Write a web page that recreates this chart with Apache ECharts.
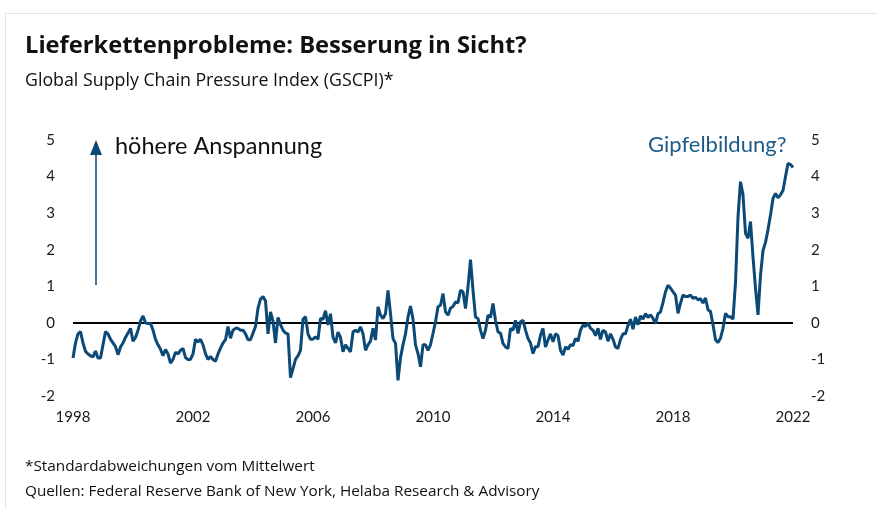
<!DOCTYPE html>
<html>
<head>
<meta charset="utf-8">
<script src="https://cdn.jsdelivr.net/npm/echarts@6/dist/echarts.min.js"></script>
<style>
  html, body { margin: 0; padding: 0; background: #fff; }
  #chart { width: 877px; height: 509px; }
</style>
</head>
<body>
<div id="chart"></div>
<script>
// GSCPI, monatlich ab Jan 1998
var startYear = 1998;
var gscpi = [
  // 1998
  -0.96, -0.55, -0.30, -0.24, -0.55, -0.78, -0.85, -0.90, -0.93, -0.77, -0.96, -0.96,
  // 1999
  -0.60, -0.24, -0.30, -0.45, -0.55, -0.65, -0.87, -0.66, -0.55, -0.40, -0.28, -0.15,
  // 2000
  -0.50, -0.40, -0.20, 0.05, 0.19, 0.00, -0.02, -0.01, -0.20, -0.45, -0.60, -0.72,
  // 2001
  -0.90, -0.73, -0.85, -1.10, -1.00, -0.80, -0.85, -0.75, -0.70, -0.95, -1.00, -1.00,
  // 2002
  -0.85, -0.45, -0.52, -0.45, -0.60, -0.85, -1.00, -0.92, -1.00, -1.05, -0.85, -0.69,
  // 2003
  -0.55, -0.46, -0.10, -0.42, -0.20, -0.15, -0.15, -0.20, -0.20, -0.30, -0.46, -0.46,
  // 2004
  -0.28, -0.10, 0.40, 0.65, 0.72, 0.60, -0.30, 0.30, 0.05, -0.55, 0.15, -0.05,
  // 2005
  -0.20, -0.28, -0.30, -1.50, -1.25, -1.00, -0.90, -0.75, 0.10, 0.17, -0.30, -0.45,
  // 2006
  -0.45, -0.38, -0.45, 0.12, 0.10, 0.33, -0.06, 0.25, -0.40, -0.55, -0.25, -0.40,
  // 2007
  -0.79, -0.60, -0.70, -0.79, -0.25, -0.20, -0.25, -0.11, -0.30, -0.75, -0.60, -0.50,
  // 2008
  -0.15, -0.47, 0.44, 0.21, 0.12, 0.25, 0.89, 0.25, -0.43, -0.56, -1.57, -0.95,
  // 2009
  -0.60, -0.30, 0.16, 0.46, 0.10, -0.60, -0.84, -1.20, -0.60, -0.60, -0.75, -0.60,
  // 2010
  -0.29, 0.03, 0.44, 0.48, 0.80, 0.30, 0.21, 0.40, 0.45, 0.57, 0.55, 0.89,
  // 2011
  0.85, 0.39, 0.98, 1.73, 0.89, 0.16, 0.12, -0.20, -0.43, -0.20, 0.21, 0.15,
  // 2012
  0.53, 0.07, -0.25, -0.28, -0.56, -0.66, -0.70, -0.15, -0.20, 0.07, -0.29, 0.03,
  // 2013
  0.07, -0.20, -0.43, -0.55, -0.84, -0.65, -0.65, -0.34, -0.15, -0.66, -0.47, -0.30,
  // 2014
  -0.52, -0.30, -0.35, -0.75, -0.88, -0.66, -0.72, -0.60, -0.62, -0.43, -0.50, -0.20,
  // 2015
  -0.06, -0.10, 0.00, -0.15, -0.20, -0.35, -0.15, -0.45, -0.20, -0.25, -0.50, -0.30,
  // 2016
  -0.45, -0.66, -0.70, -0.45, -0.30, -0.30, -0.07, 0.10, -0.17, 0.16, -0.05, 0.19,
  // 2017
  0.10, 0.25, 0.15, 0.22, 0.12, -0.02, 0.25, 0.30, 0.56, 0.85, 1.03, 0.95,
  // 2018
  0.85, 0.76, 0.26, 0.54, 0.76, 0.72, 0.72, 0.76, 0.67, 0.70, 0.63, 0.66,
  // 2019
  0.54, 0.68, 0.36, 0.31, -0.05, -0.46, -0.54, -0.42, -0.15, 0.26, 0.17, 0.17,
  // 2020
  0.10, 1.10, 2.90, 3.86, 3.50, 2.45, 2.31, 2.77, 1.80, 0.95, 0.22, 1.30,
  // 2021
  1.98, 2.20, 2.55, 2.95, 3.40, 3.54, 3.42, 3.50, 3.62, 4.00, 4.36, 4.33,
  // 2022
  4.25
];
var yearTicks = [1998, 2002, 2006, 2010, 2014, 2018, 2022];

var seriesData = gscpi.map(function (v, i) { return [startYear + i / 12, v]; });

var blue = '#0b4977';
var font = 'Lato';
var textFont = '"Open Sans"';

var chart = echarts.init(document.getElementById('chart'));

var option = {
  animation: false,
  textStyle: { fontFamily: font },
  grid: { left: 73, right: 84, top: 140, bottom: 113 },
  xAxis: {
    type: 'value',
    min: yearTicks[0],
    max: yearTicks[yearTicks.length - 1],
    interval: 4,
    axisLine: { show: false },
    axisTick: { show: false },
    splitLine: { show: false },
    axisLabel: {
      margin: 14, fontSize: 15, color: '#1a1a1a', fontFamily: font,
      formatter: function (v) { return String(v); }
    }
  },
  yAxis: [
    {
      type: 'value', min: -2, max: 5, interval: 1, position: 'left',
      axisLine: { show: false }, axisTick: { show: false }, splitLine: { show: false },
      axisLabel: { margin: 18, fontSize: 15, color: '#1a1a1a', fontFamily: font }
    },
    {
      type: 'value', min: -2, max: 5, interval: 1, position: 'right',
      axisLine: { show: false }, axisTick: { show: false }, splitLine: { show: false },
      axisLabel: { margin: 18, fontSize: 15, color: '#1a1a1a', fontFamily: font }
    }
  ],
  series: [{
    type: 'line',
    data: seriesData,
    showSymbol: false,
    lineStyle: { color: blue, width: 3 },
    itemStyle: { color: blue },
    z: 3,
    markLine: {
      silent: true,
      symbol: 'none',
      label: { show: false },
      lineStyle: { color: '#000', width: 2, type: 'solid' },
      data: [{ yAxis: 0 }],
      z: 2
    }
  }],
  graphic: [
    // Rahmen
    { type: 'rect', shape: { x: 5.5, y: 13.5, width: 900, height: 600 },
      style: { fill: 'none', stroke: '#e3e3e3', lineWidth: 1 }, silent: true },
    // Titel
    { type: 'text', left: 25, top: 34,
      style: { text: 'Lieferkettenprobleme: Besserung in Sicht?', font: 'bold 23.7px ' + textFont, fill: '#111' } },
    { type: 'text', left: 25, top: 72,
      style: { text: 'Global Supply Chain Pressure Index (GSCPI)*', font: '17.8px ' + textFont, fill: '#111' } },
    // Pfeil
    { type: 'line', shape: { x1: 96, y1: 285, x2: 96, y2: 152 },
      style: { stroke: blue, lineWidth: 1.5 } },
    { type: 'polygon', shape: { points: [[96, 140], [90, 155], [102, 155]] },
      style: { fill: blue } },
    { type: 'text', left: 115, top: 134,
      style: { text: 'höhere Anspannung', font: '23.5px ' + font, fill: '#111' } },
    { type: 'text', left: 648, top: 134,
      style: { text: 'Gipfelbildung?', font: '22px ' + font, fill: '#1d5b89' } },
    // Fußnoten
    { type: 'text', left: 25, top: 459,
      style: { text: '*Standardabweichungen vom Mittelwert', font: '15.3px ' + textFont, fill: '#111' } },
    { type: 'text', left: 25, top: 484,
      style: { text: 'Quellen: Federal Reserve Bank of New York, Helaba Research & Advisory', font: '15.3px ' + textFont, fill: '#111' } }
  ]
};

chart.setOption(option);
</script>
</body>
</html>
